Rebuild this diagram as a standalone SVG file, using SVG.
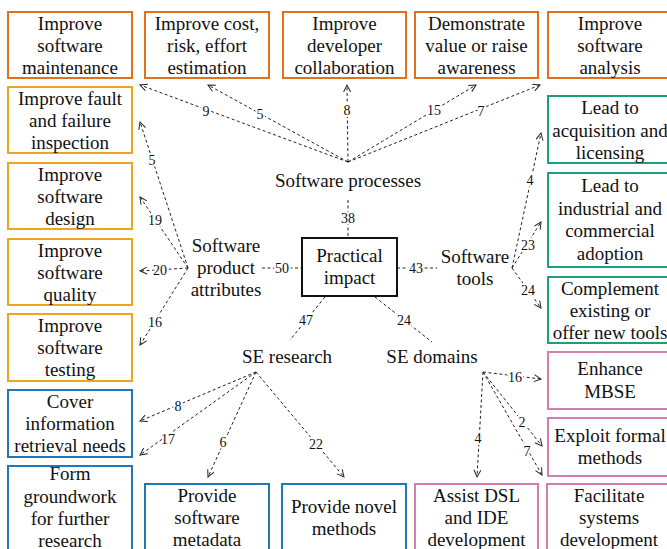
<svg xmlns="http://www.w3.org/2000/svg" width="667" height="549" viewBox="0 0 667 549">
<style>
text{fill:#111;}
.t{font-size:19px;text-anchor:middle;}
.n{font-size:14px;text-anchor:middle;stroke:#fff;stroke-width:4px;paint-order:stroke;stroke-linejoin:round;}
.box{fill:#fff;stroke-width:2px;}
.or{stroke:#E2711D;}
.ye{stroke:#EBA61F;}
.gr{stroke:#1D9E7C;}
.bl{stroke:#2277B6;}
.pk{stroke:#D57DAD;}
.c{fill:none;stroke:#222;stroke-width:1px;stroke-dasharray:3 2.5;}
.a{marker-end:url(#arr);}
</style>
<defs>
<marker id="arr" markerUnits="userSpaceOnUse" markerWidth="10" markerHeight="10" viewBox="0 0 10 10" refX="8" refY="4" orient="auto">
<path d="M1,0.5 L8,4 L1,7.5" fill="none" stroke="#222" stroke-width="1"/>
</marker>
</defs>
<rect width="667" height="549" fill="#fff"/>
<g font-family="Liberation Serif, DejaVu Serif, Noto Serif, Times New Roman, serif">
<g id="connectors">
<path class="c a" d="M348,162 L140,85"/>
<path class="c a" d="M348,162 L208,85"/>
<path class="c a" d="M348,162 L347,85"/>
<path class="c a" d="M348,162 L476,85"/>
<path class="c a" d="M348,162 L540,85"/>
<path class="c a" d="M188,268 L140,122"/>
<path class="c a" d="M188,268 L140,197"/>
<path class="c a" d="M188,268 L140,271"/>
<path class="c a" d="M188,268 L140,345"/>
<path class="c a" d="M512,268 L541,133"/>
<path class="c a" d="M512,268 L541,222"/>
<path class="c a" d="M512,268 L541,308"/>
<path class="c a" d="M256,372 L140,421"/>
<path class="c a" d="M256,372 L140,455"/>
<path class="c a" d="M256,372 L208,477"/>
<path class="c a" d="M256,372 L344,477"/>
<path class="c a" d="M483,372 L541,379"/>
<path class="c a" d="M483,372 L542,446"/>
<path class="c a" d="M483,372 L542,475"/>
<path class="c a" d="M483,372 L477,477"/>
<path class="c" d="M348,200 L348,238"/>
<path class="c" d="M262,268 L302,268"/>
<path class="c" d="M397,268 L437,268"/>
<path class="c" d="M325,297 L290,340"/>
<path class="c" d="M375,297 L432,342"/>
<text class="n" x="206" y="116">9</text>
<text class="n" x="260" y="119">5</text>
<text class="n" x="347" y="115">8</text>
<text class="n" x="434" y="115">15</text>
<text class="n" x="481" y="116">7</text>
<text class="n" x="152" y="165">5</text>
<text class="n" x="155" y="225">19</text>
<text class="n" x="160" y="275">20</text>
<text class="n" x="155" y="327">16</text>
<text class="n" x="530" y="185">4</text>
<text class="n" x="528" y="250">23</text>
<text class="n" x="528" y="295">24</text>
<text class="n" x="178" y="411">8</text>
<text class="n" x="168" y="444">17</text>
<text class="n" x="223" y="447">6</text>
<text class="n" x="316" y="449">22</text>
<text class="n" x="515" y="382">16</text>
<text class="n" x="522" y="427">2</text>
<text class="n" x="527" y="456">7</text>
<text class="n" x="478" y="443">4</text>
<text class="n" x="348" y="223">38</text>
<text class="n" x="282" y="273">50</text>
<text class="n" x="416" y="273">43</text>
<text class="n" x="306" y="325">47</text>
<text class="n" x="404" y="325">24</text>
</g>

<g id="practical-impact">
<rect x="302" y="238" width="95" height="58" fill="#fff" stroke="#111" stroke-width="2"/>
<text class="t" x="349.5" y="262">Practical</text>
<text class="t" x="349.5" y="284">impact</text>
</g>

<g id="software-processes"><text class="t" x="348" y="187">Software processes</text></g>
<g id="software-product-attributes">
<text class="t" x="226" y="252">Software</text>
<text class="t" x="226" y="274">product</text>
<text class="t" x="226" y="296">attributes</text>
</g>
<g id="software-tools">
<text class="t" x="475" y="263">Software</text>
<text class="t" x="475" y="285">tools</text>
</g>
<g id="se-research"><text class="t" x="287" y="363">SE research</text></g>
<g id="se-domains"><text class="t" x="432" y="363">SE domains</text></g>

<g id="maintenance"><rect class="box or" x="8" y="12" width="124" height="66"/>
<text class="t" x="70" y="30">Improve</text><text class="t" x="70" y="52">software</text><text class="t" x="70" y="74">maintenance</text></g>
<g id="estimation"><rect class="box or" x="145" y="12" width="124" height="66"/>
<text class="t" x="207" y="30">Improve cost,</text><text class="t" x="207" y="52">risk, effort</text><text class="t" x="207" y="74">estimation</text></g>
<g id="collaboration"><rect class="box or" x="283" y="12" width="123" height="66"/>
<text class="t" x="344.5" y="30">Improve</text><text class="t" x="344.5" y="52">developer</text><text class="t" x="344.5" y="74">collaboration</text></g>
<g id="awareness"><rect class="box or" x="415" y="12" width="123" height="66"/>
<text class="t" x="476.5" y="30">Demonstrate</text><text class="t" x="476.5" y="52">value or raise</text><text class="t" x="476.5" y="74">awareness</text></g>
<g id="analysis"><rect class="box or" x="548" y="12" width="124" height="66"/>
<text class="t" x="610" y="30">Improve</text><text class="t" x="610" y="52">software</text><text class="t" x="610" y="74">analysis</text></g>

<g id="fault"><rect class="box ye" x="8" y="87" width="124" height="66"/>
<text class="t" x="70" y="105">Improve fault</text><text class="t" x="70" y="127">and failure</text><text class="t" x="70" y="149">inspection</text></g>
<g id="design"><rect class="box ye" x="8" y="163" width="124" height="66"/>
<text class="t" x="70" y="181">Improve</text><text class="t" x="70" y="203">software</text><text class="t" x="70" y="225">design</text></g>
<g id="quality"><rect class="box ye" x="8" y="239" width="124" height="66"/>
<text class="t" x="70" y="257">Improve</text><text class="t" x="70" y="279">software</text><text class="t" x="70" y="301">quality</text></g>
<g id="testing"><rect class="box ye" x="8" y="314" width="124" height="67"/>
<text class="t" x="70" y="332">Improve</text><text class="t" x="70" y="354">software</text><text class="t" x="70" y="376">testing</text></g>

<g id="retrieval"><rect class="box bl" x="8" y="390" width="124" height="67"/>
<text class="t" x="70" y="408">Cover</text><text class="t" x="70" y="430">information</text><text class="t" x="70" y="452">retrieval needs</text></g>
<g id="groundwork"><rect class="box bl" x="8" y="466" width="124" height="100"/>
<text class="t" x="70" y="480">Form</text><text class="t" x="70" y="503">groundwork</text><text class="t" x="70" y="525">for further</text><text class="t" x="70" y="547">research</text></g>
<g id="metadata"><rect class="box bl" x="145" y="484" width="124" height="80"/>
<text class="t" x="207" y="502">Provide</text><text class="t" x="207" y="524">software</text><text class="t" x="207" y="546">metadata</text></g>
<g id="novel"><rect class="box bl" x="282" y="484" width="124" height="80"/>
<text class="t" x="344" y="513">Provide novel</text><text class="t" x="344" y="535">methods</text></g>

<g id="dsl"><rect class="box pk" x="415" y="484" width="123" height="80"/>
<text class="t" x="476.5" y="502">Assist DSL</text><text class="t" x="476.5" y="524">and IDE</text><text class="t" x="476.5" y="546">development</text></g>
<g id="facilitate"><rect class="box pk" x="547" y="484" width="125" height="80"/>
<text class="t" x="609" y="502">Facilitate</text><text class="t" x="609" y="524">systems</text><text class="t" x="609" y="546">development</text></g>
<g id="mbse"><rect class="box pk" x="548" y="352" width="124" height="57"/>
<text class="t" x="610" y="375">Enhance</text><text class="t" x="610" y="398">MBSE</text></g>
<g id="formal"><rect class="box pk" x="548" y="418" width="124" height="58"/>
<text class="t" x="610" y="442">Exploit formal</text><text class="t" x="610" y="464">methods</text></g>

<g id="acquisition"><rect class="box gr" x="548" y="96" width="124" height="67"/>
<text class="t" x="610" y="114">Lead to</text><text class="t" x="610" y="137">acquisition and</text><text class="t" x="610" y="159">licensing</text></g>
<g id="adoption"><rect class="box gr" x="548" y="173" width="124" height="94"/>
<text class="t" x="610" y="192">Lead to</text><text class="t" x="610" y="215">industrial and</text><text class="t" x="610" y="237">commercial</text><text class="t" x="610" y="260">adoption</text></g>
<g id="complement"><rect class="box gr" x="548" y="277" width="124" height="66"/>
<text class="t" x="610" y="295">Complement</text><text class="t" x="610" y="317">existing or</text><text class="t" x="610" y="339">offer new tools</text></g>
</g>
</svg>
